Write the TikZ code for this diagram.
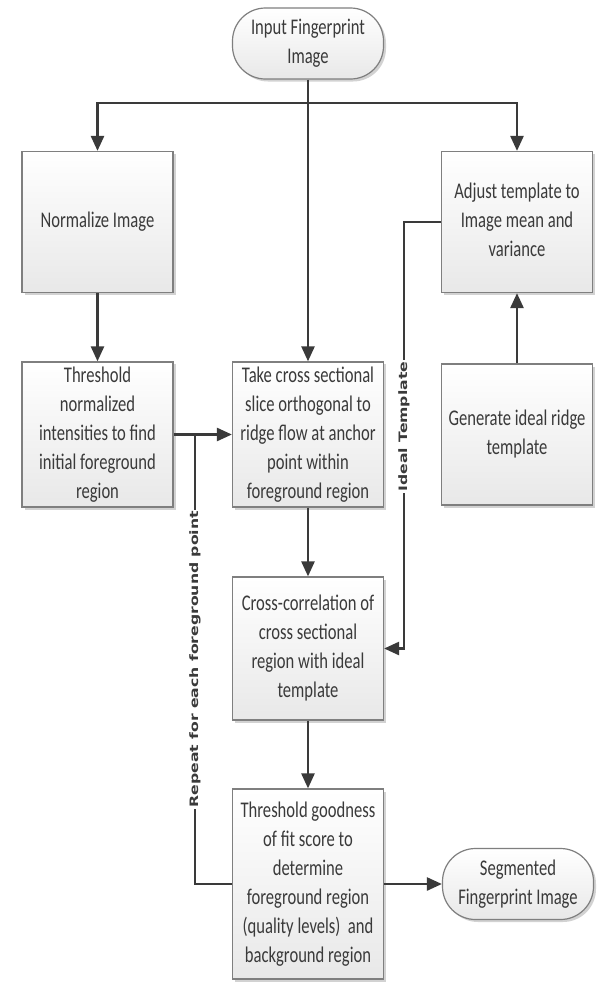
\documentclass[tikz,border=0pt]{standalone}
\usepackage{graphicx}
\usepackage{fontspec}
\setmainfont{Carlito}
\newfontfamily\lblfont{DejaVu Sans}
\usetikzlibrary{arrows.meta,shadows}

\definecolor{linegray}{HTML}{3A3A3A}
\definecolor{boxedge}{HTML}{7F7F7F}

\newcommand{\vstr}[1]{\scalebox{1}[1.35]{\begin{tabular}{@{}c@{}}#1\end{tabular}}}
\newcommand{\hstr}[1]{\scalebox{1.35}[1]{#1}}

\tikzset{
  procbox/.style={draw=boxedge, line width=1.2pt, top color=white, bottom color=gray!18,
    minimum width=151pt, inner sep=0pt, text=linegray,
    font=\fontsize{16.6}{21.5}\selectfont,
    drop shadow={opacity=0.35, shadow xshift=2.5pt, shadow yshift=-2.5pt}},
  termbox/.style={procbox, rounded corners=33pt, minimum height=71pt},
  flow/.style={line width=2.5pt, draw=linegray, -{Triangle[length=15pt,width=13pt]}},
  loopline/.style={line width=2.5pt, draw=linegray},
  looplabel/.style={fill=white, rotate=90, text=linegray, inner sep=1.5pt,
    font=\lblfont\bfseries\fontsize{11.6}{14}\selectfont}
}

\begin{document}
\begin{tikzpicture}[x=1pt,y=-1pt]

  \path[fill=white, use as bounding box] (0,0) rectangle (603,989);

  \node[termbox] (input) at (308,43.5) {\vstr{Input Fingerprint\\Image}};

  \node[procbox, minimum height=141pt] (norm) at (97.5,222) {\vstr{Normalize Image}};
  \node[procbox, minimum height=141pt] (adjust) at (517,222) {\vstr{Adjust template to\\Image mean and\\variance}};

  \node[procbox, minimum height=141pt] (thresh) at (97.5,434.5) {\vstr{Threshold\\normalized\\intensities to find\\initial foreground\\region}};
  \node[procbox, minimum height=141pt] (take) at (308,434.5) {\vstr{Take cross sectional\\slice orthogonal to\\ridge flow at anchor\\point within\\foreground region}};
  \node[procbox, minimum height=141pt] (gen) at (517,434.5) {\vstr{Generate ideal ridge\\template}};

  \node[procbox, minimum height=143pt] (xcorr) at (308,648.5) {\vstr{Cross-correlation of\\cross sectional\\region with ideal\\template}};
  \node[procbox, minimum height=190pt] (good) at (308,884) {\vstr{Threshold goodness\\of fit score to\\determine\\foreground region\\(quality levels)\ \ and\\background region}};
  \node[termbox] (seg) at (518,884) {\vstr{Segmented\\Fingerprint Image}};

  \coordinate (split) at (308,103);
  \coordinate (jn) at (195,434.5);
  \coordinate (repbot) at (195,884);
  \coordinate (idealtop) at (404,222);
  \coordinate (idealbot) at (404,648.5);

  \draw[flow] (input) -- (take);
  \draw[flow] (split) -| (norm);
  \draw[flow] (split) -| (adjust);
  \draw[flow] (norm) -- (thresh);
  \draw[flow] (gen) -- (adjust);
  \draw[flow] (thresh) -- (take);
  \draw[flow] (take) -- (xcorr);
  \draw[flow] (xcorr) -- (good);
  \draw[flow] (good) -- (seg);

  \draw[flow] (adjust.west) -- (idealtop) -- node[looplabel, pos=0.48] {\hstr{Ideal Template}} (idealbot) -- (xcorr.east);
  \draw[loopline] (jn) -- node[looplabel, pos=0.5] {\hstr{Repeat for each foreground point}} (repbot) -- (good.west);

\end{tikzpicture}
\end{document}
